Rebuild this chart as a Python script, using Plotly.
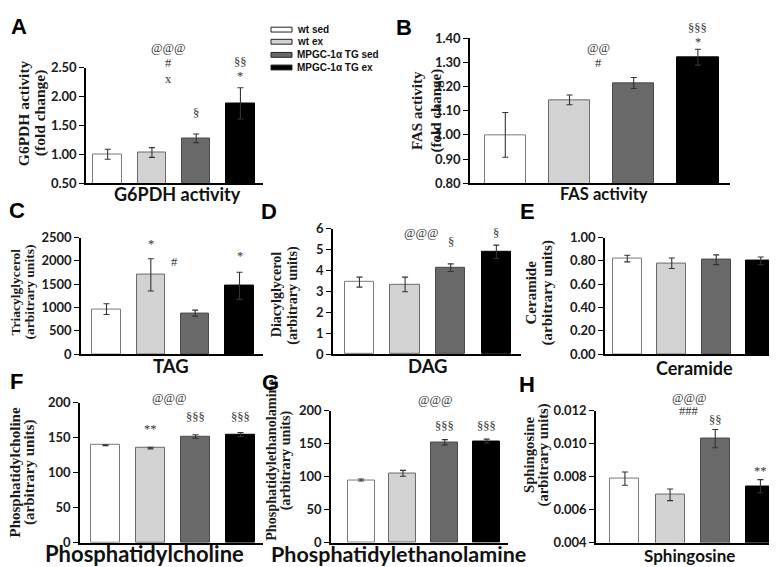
import plotly.graph_objects as go

W, H = 777, 567

groups = ["wt sed", "wt ex", "MPGC-1α TG sed", "MPGC-1α TG ex"]
bar_colors = ["#ffffff", "#d2d2d2", "#696969", "#000000"]
line_colors = ["#7a7a7a", "#6a6a6a", "#4a4a4a", "#000000"]

g6pdh_vals = [1.00, 1.03, 1.275, 1.88]
g6pdh_err = [0.087, 0.085, 0.075, 0.27]
fas_vals = [1.00, 1.145, 1.215, 1.322]
fas_err = [0.093, 0.02, 0.023, 0.033]
tag_vals = [965, 1700, 880, 1465]
tag_err = [115, 345, 65, 290]
dag_vals = [3.45, 3.34, 4.14, 4.90]
dag_err = [0.24, 0.35, 0.18, 0.32]
cer_vals = [0.82, 0.78, 0.81, 0.80]
cer_err = [0.028, 0.045, 0.042, 0.033]
pc_vals = [139.3, 135.3, 151.8, 154.5]
pc_err = [0.8, 1.2, 2.5, 2.8]
pe_vals = [94.8, 105.0, 152.0, 153.8]
pe_err = [1.5, 4.5, 4.0, 3.0]
sph_vals = [0.00788, 0.0069, 0.0103, 0.00742]
sph_err = [0.0004, 0.00035, 0.00055, 0.0004]


def px(x):
    return x / W


def py(y):
    return 1 - y / H


panels = [
    dict(v=g6pdh_vals, e=g6pdh_err, xd=(78, 255), yd=(53, 172), yr=(0.5, 2.5), dt=0.5, fmt=".2f",
         xr=(-0.49, 3.51), yt=["G6PDH activity", "(fold change)"], ytp=(23.5, 100), yts=15.5, ysp=17,
         xt="G6PDH activity", xtp=(169, 183), xts=18, L="A", Lp=(11, 11),
         marks=[("@@@", 1.37, 2.84), ("#", 1.37, 2.58), ("x", 1.37, 2.30), ("§", 2, 1.71),
                ("§§", 3, 2.60), ("*", 3, 2.35)]),
    dict(v=fas_vals, e=fas_err, xd=(462, 722), yd=(23, 172), yr=(0.8, 1.4), dt=0.1, fmt=".2f",
         xr=(-0.55, 3.5), yt=["FAS activity", "(fold change)"], ytp=(419, 97), yts=15, ysp=18.5,
         xt="FAS activity", xtp=(596, 183), xts=16.5, L="B", Lp=(396, 12),
         marks=[("@@", 1.45, 1.36), ("#", 1.45, 1.296), ("§§§", 3, 1.441), ("*", 3, 1.385)]),
    dict(v=tag_vals, e=tag_err, xd=(73, 255), yd=(228, 348), yr=(0, 2500), dt=500, fmt="d",
         xr=(-0.575, 3.53), yt=["Triacylglycerol", "(arbitrary units)"], ytp=(14.5, 284), yts=13.5, ysp=14,
         xt="TAG", xtp=(163, 360), xts=18.5, L="C", Lp=(9, 200),
         marks=[("*", 1, 2354), ("#", 1.54, 1979), ("*", 3, 2104)]),
    dict(v=dag_vals, e=dag_err, xd=(325, 513), yd=(219, 348), yr=(0, 6), dt=1, fmt="d",
         xr=(-0.58, 3.54), yt=["Diacylglycerol", "(arbitrary units)"], ytp=(277, 287), yts=14, ysp=15.5,
         xt="DAG", xtp=(420, 360), xts=18.5, L="D", Lp=(261, 201),
         marks=[("@@@", 1.37, 5.81), ("§", 2, 5.35), ("§", 3, 5.81)]),
    dict(v=cer_vals, e=cer_err, xd=(597, 775), yd=(228, 348), yr=(0, 1), dt=0.2, fmt=".2f",
         xr=(-0.5, 3.5), yt=["Ceramide", "(arbitrary units)"], ytp=(531, 285), yts=15, ysp=17,
         xt="Ceramide", xtp=(686, 362), xts=18, L="E", Lp=(519, 201),
         marks=[]),
    dict(v=pc_vals, e=pc_err, xd=(72, 255), yd=(398, 542), yr=(0, 200), dt=50, fmt="d",
         xr=(-0.567, 3.5), yt=["Phosphatidylcholine", "(arbitrary units)"], ytp=(14, 470), yts=15, ysp=14.5,
         xt="Phosphatidylcholine", xtp=(136, 553.5), xts=22, L="F", Lp=(8, 376),
         marks=[("@@@", 1.43, 207), ("**", 1, 162.5), ("§§§", 2, 179), ("§§§", 3, 179)]),
    dict(v=pe_vals, e=pe_err, xd=(323, 500), yd=(406, 542), yr=(0, 200), dt=50, fmt="d",
         xr=(-0.72, 3.51), yt=["Phosphatidylethanolamine", "(arbitrary units)"], ytp=(270, 457), yts=14.2, ysp=14.5,
         xt="Phosphatidylethanolamine", xtp=(390, 553.5), xts=21.5, L="G", Lp=(262, 377),
         marks=[("@@@", 1.77, 216), ("§§§", 2, 176), ("§§§", 3, 176)]),
    dict(v=sph_vals, e=sph_err, xd=(588, 775), yd=(406, 542), yr=(0.004, 0.012), dt=0.002, fmt=".3f",
         xr=(-0.64, 3.5), yt=["Sphingosine", "(arbitrary units)"], ytp=(528, 452), yts=14.7, ysp=14.5,
         xt="Sphingosine", xtp=(681, 555), xts=17, L="H", Lp=(519, 379),
         marks=[("@@@", 1.44, 0.01276), ("###", 1.42, 0.0120), ("§§", 2, 0.01141), ("**", 3, 0.00835)]),
]

fig = go.Figure()
annotations = []
layout = {}
xs = [0, 1, 2, 3]

for i, p in enumerate(panels):
    n = "" if i == 0 else str(i + 1)
    xd0, xd1 = px(p["xd"][0]), px(p["xd"][1])
    yd0, yd1 = py(p["yd"][1]), py(p["yd"][0])
    fig.add_trace(go.Bar(
        x=xs, y=p["v"], width=0.645,
        marker=dict(color=bar_colors, line=dict(color=line_colors, width=1)),
        error_y=dict(type="data", array=p["e"], color="#333333", thickness=1.1, width=3),
        xaxis="x" + n, yaxis="y" + n, showlegend=False, hoverinfo="skip",
    ))
    layout["xaxis" + n] = dict(
        domain=[xd0, xd1], anchor="y" + n, range=list(p["xr"]),
        showticklabels=False, ticks="", showgrid=False, zeroline=False,
        showline=True, linecolor="#000000", linewidth=1.5, fixedrange=True,
    )
    layout["yaxis" + n] = dict(
        domain=[yd0, yd1], anchor="x" + n, range=list(p["yr"]),
        dtick=p["dt"], tick0=p["yr"][0], tickformat=p["fmt"], showgrid=False, zeroline=False,
        showline=True, linecolor="#000000", linewidth=1.5, ticks="outside", ticklen=5,
        tickcolor="#000000", tickwidth=1.2,
        tickfont=dict(family="Lato", size=13, color="#1a1a1a", weight="bold"),
    )
    # two-line rotated y title
    for k, line in enumerate(p["yt"]):
        off = (k - 0.5) * p["ysp"]
        annotations.append(dict(
            text="<b>" + line + "</b>", x=px(p["ytp"][0] + off), y=py(p["ytp"][1]),
            xref="paper", yref="paper", textangle=-90, showarrow=False,
            xanchor="center", yanchor="middle",
            font=dict(family="Liberation Serif", size=p["yts"], color="#1a1a1a"),
        ))
    annotations.append(dict(
        text=p["xt"], x=px(p["xtp"][0]), y=py(p["xtp"][1]), xref="paper", yref="paper",
        showarrow=False, xanchor="center", yanchor="middle",
        font=dict(family="Lato", size=p["xts"], color="#111111", weight="bold"),
    ))
    annotations.append(dict(
        text="<b>" + p["L"] + "</b>", x=px(p["Lp"][0]), y=py(p["Lp"][1]), xref="paper", yref="paper",
        showarrow=False, xanchor="center", yanchor="middle",
        font=dict(family="Liberation Sans", size=22, color="#000000"),
    ))
    # significance marks: data position mapped onto the panel's domain
    for txt, mx, my in p["marks"]:
        fx = xd0 + (mx - p["xr"][0]) / (p["xr"][1] - p["xr"][0]) * (xd1 - xd0)
        fy = yd0 + (my - p["yr"][0]) / (p["yr"][1] - p["yr"][0]) * (yd1 - yd0)
        annotations.append(dict(
            text=txt, x=fx, y=fy, xref="paper", yref="paper", showarrow=False,
            xanchor="center", yanchor="middle",
            font=dict(family="Liberation Serif", size=12.5, color="#333333"),
        ))

# legend
shapes = []
leg_y = [14, 26.5, 40, 53]
for g, c, ly in zip(groups, bar_colors, leg_y):
    shapes.append(dict(type="rect", xref="paper", yref="paper",
                       x0=px(263), x1=px(284), y0=py(ly + 2.5), y1=py(ly - 2.5),
                       fillcolor=c, line=dict(color="#222222", width=1)))
    annotations.append(dict(text="<b>" + g + "</b>", x=px(287), y=py(ly), xref="paper", yref="paper",
                            showarrow=False, xanchor="left", yanchor="middle",
                            font=dict(family="Liberation Sans", size=10, color="#111111")))

fig.update_layout(
    width=W, height=H, margin=dict(l=0, r=0, t=0, b=0),
    paper_bgcolor="#ffffff", plot_bgcolor="#ffffff",
    annotations=annotations, shapes=shapes, bargap=0, **layout,
)

fig.write_html("out.html")
